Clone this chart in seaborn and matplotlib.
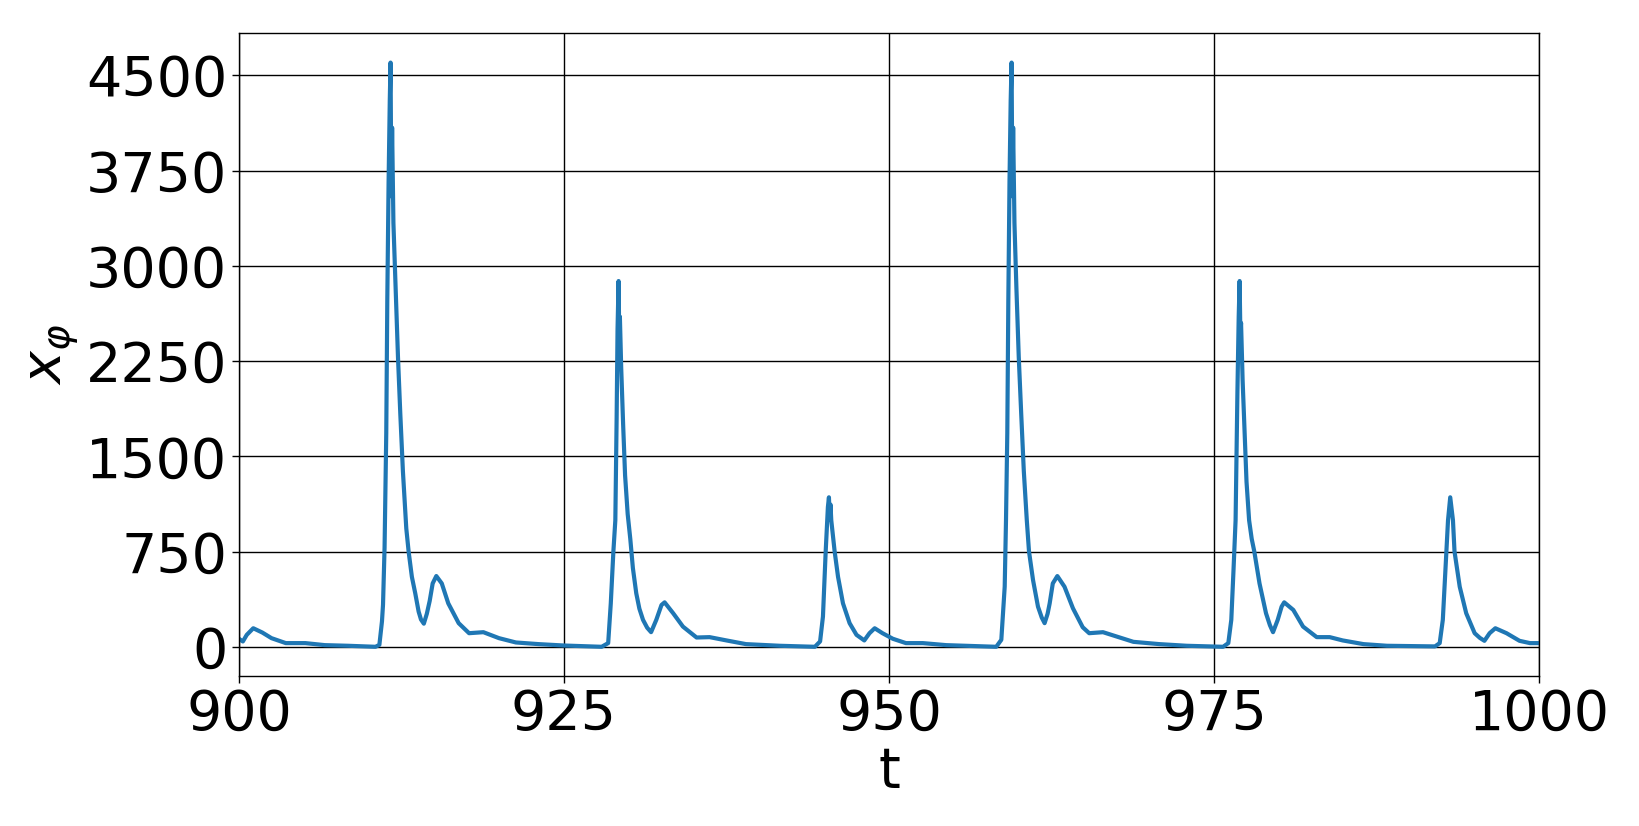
import numpy as np
import pandas as pd
import matplotlib
matplotlib.use("Agg")
import matplotlib.pyplot as plt
import seaborn as sns

# Time samples
t_vals = [
    # cycle 1
    900.0, 900.3, 900.6, 901.1, 901.8, 902.5, 903.6, 905.1, 906.6, 908.4,
    910.5, 910.8, 911.0, 911.08, 911.2, 911.33, 911.41, 911.51, 911.6, 911.66,
    911.72, 911.78, 911.88, 912.05, 912.23, 912.41, 912.61, 912.87, 913.05, 913.3,
    913.56, 913.82, 914.0, 914.22, 914.45, 914.67, 914.9, 915.18, 915.6, 916.1,
    916.9, 917.7, 918.8, 920.0, 921.3, 923.05, 925.0, 927.9,
    # cycle 2
    928.4, 928.6, 928.8, 928.95, 929.05, 929.12, 929.2, 929.26, 929.3, 929.4,
    929.55, 929.7, 929.9, 930.1, 930.3, 930.56, 930.8, 931.08, 931.4, 931.7,
    932.1, 932.5, 932.74, 933.4, 934.15, 935.2, 936.2, 937.5, 939.0, 941.6,
    944.3,
    # cycle 3
    944.7, 944.92, 945.13, 945.3, 945.38, 945.45, 945.5, 945.56, 945.82, 946.08,
    946.46, 946.97, 947.5, 948.1, 948.5, 948.9, 949.5, 950.3, 951.3, 952.6,
    954.4, 958.25,
    # cycle 4
    958.64, 958.9, 959.0, 959.1, 959.18, 959.27, 959.36, 959.43, 959.49, 959.55,
    959.65, 959.8, 959.98, 960.17, 960.37, 960.6, 960.77, 961.08, 961.46, 961.75,
    961.97, 962.2, 962.36, 962.6, 962.95, 963.5, 964.15, 964.9, 965.4, 966.46,
    967.5, 968.8, 970.8, 972.9, 975.7,
    # cycle 5
    976.1, 976.33, 976.5, 976.66, 976.8, 976.9, 976.97, 977.03, 977.08, 977.2,
    977.35, 977.5, 977.7, 977.9, 978.1, 978.5, 979.0, 979.3, 979.54, 979.9,
    980.2, 980.4, 981.1, 981.85, 982.9, 983.9, 984.9, 986.5, 988.3, 990.8,
    992.0,
    # cycle 6
    992.36, 992.6, 992.8, 993.0, 993.17, 993.38, 993.5, 993.9, 994.4, 995.05,
    995.45, 995.8, 996.2, 996.64, 997.5, 998.5, 999.3, 1000.0,
]

# x_phi values
x_phi = [
    # cycle 1
    63, 42, 94, 146, 112, 68, 29, 29, 13, 8,
    0, 15, 200, 331, 782, 1683, 2735, 3667, 4300, 4600,
    3547, 4088, 3337, 2826, 2285, 1834, 1383, 932, 750, 551,
    421, 277, 215, 182, 260, 361, 499, 557, 499, 342,
    186, 107, 115, 68, 34, 21, 10, 0,
    # cycle 2
    29, 342, 750, 996, 1800, 2500, 2880, 2350, 2600, 2200,
    1750, 1350, 1045, 850, 620, 421, 300, 212, 150, 115,
    212, 329, 350, 264, 159, 73, 76, 50, 21, 8,
    0,
    # cycle 3
    42, 238, 750, 1100, 1177, 1000, 1120, 996, 750, 551,
    342, 186, 94, 50, 107, 146, 107, 63, 29, 29,
    13, 0,
    # cycle 4
    55, 473, 996, 1683, 2735, 3667, 4300, 4600, 3547, 4088,
    3337, 2826, 2285, 1834, 1383, 996, 750, 525, 316, 230,
    186, 260, 342, 499, 557, 473, 303, 154, 107, 115,
    81, 39, 21, 8, 0,
    # cycle 5
    29, 212, 604, 996, 2000, 2600, 2880, 2450, 2550, 2100,
    1700, 1300, 996, 850, 750, 499, 264, 170, 115, 212,
    316, 350, 290, 159, 76, 76, 50, 21, 8, 5,
    3,
    # cycle 6
    29, 212, 604, 996, 1177, 996, 750, 473, 264, 107,
    70, 47, 107, 146, 107, 47, 29, 29,
]

x_ticks = [900, 925, 950, 975, 1000]
y_ticks = [0, 750, 1500, 2250, 3000, 3750, 4500]

df = pd.DataFrame({"t": t_vals, "x": x_phi})

sns.set_style("whitegrid", {
    "grid.color": "black",
    "axes.edgecolor": "black",
    "axes.labelcolor": "black",
    "text.color": "black",
    "xtick.bottom": True,
    "ytick.left": True,
    "xtick.color": "black",
    "ytick.color": "black",
})
plt.rcParams["font.family"] = ["DejaVu Sans"]

fig = plt.figure(figsize=(16.39, 8.26), dpi=100)
ax = fig.add_axes([0.1458, 0.1816, 0.7932, 0.778])

sns.lineplot(data=df, x="t", y="x", ax=ax, color="#1f77b4", linewidth=3.0,
             sort=False, estimator=None)

ax.set_xlim(900, 1000)
ax.set_ylim(-230, 4830)
ax.set_xticks(x_ticks)
ax.set_yticks(y_ticks)
ax.tick_params(axis="both", labelsize=40, length=5, width=1,
               colors="black", labelcolor="black")
ax.grid(True, color="black", linewidth=1.0)
for s in ax.spines.values():
    s.set_color("black")
    s.set_linewidth(1.0)
ax.set_xlabel("t", fontsize=40, labelpad=2, color="black")
ax.set_ylabel(r"$x_\varphi$", fontsize=40, labelpad=4, color="black")

fig.savefig("out.png", dpi=100, facecolor="white")
